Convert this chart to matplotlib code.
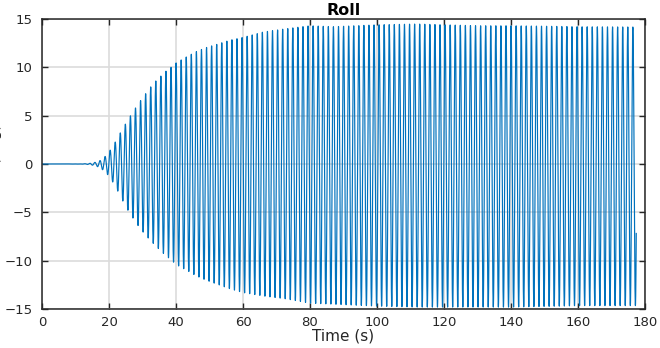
import numpy as np
import matplotlib
matplotlib.use("Agg")
import matplotlib.pyplot as plt

# Envelope of the roll response: upper peaks and lower troughs (deg) at given times (s)
env_time = [0, 12, 14, 16, 17.3, 18.9, 20.5, 22, 23.5, 25.1, 26.6, 28.1, 29.6, 31,
            32.5, 34, 35.5, 37, 38.5, 40, 43.2, 46.2, 49.2, 52.4, 56, 60, 66, 73,
            80, 87, 100, 112, 120, 130, 140, 155, 160, 177.5]
env_upper = [0, 0.01, 0.06, 0.18, 0.35, 0.8, 1.5, 2.35, 3.3, 4.25, 5.1, 5.9, 6.65, 7.3,
             8.0, 8.6, 9.1, 9.6, 10.0, 10.45, 11.1, 11.65, 12.07, 12.4, 12.8, 13.1,
             13.65, 14.0, 14.3, 14.2, 14.4, 14.48, 14.4, 14.3, 14.3, 14.23, 14.2, 14.17]
env_lower = [0, -0.01, -0.06, -0.18, -0.4, -0.8, -1.5, -2.4, -3.4, -4.5, -5.3, -6.1,
             -6.8, -7.4, -7.95, -8.5, -9.0, -9.5, -9.9, -10.4, -11.0, -11.6, -12.05,
             -12.45, -12.9, -13.3, -13.65, -13.96, -14.4, -14.5, -14.7, -14.8, -14.8,
             -14.8, -14.8, -14.7, -14.65, -14.65]
osc_period = 1.515      # s
first_peak = 17.3       # s
t_end = 177.4           # s

x_ticks = [0, 20, 40, 60, 80, 100, 120, 140, 160, 180]
y_ticks = [-15, -10, -5, 0, 5, 10, 15]

t = np.arange(0, t_end, 0.01)
up = np.interp(t, env_time, env_upper)
lo = np.interp(t, env_time, env_lower)
roll = (up + lo) / 2 + (up - lo) / 2 * np.cos(2 * np.pi * (t - first_peak) / osc_period)

plt.rcParams['font.family'] = ['DejaVu Sans']

fig = plt.figure(figsize=(6.6, 3.48), dpi=100)
ax = fig.add_axes([42 / 660, 1 - 309 / 348, (645 - 42) / 660, (309 - 19) / 348])

ax.grid(True, color='#dcdcdc', linewidth=1.2, zorder=0)
ax.set_axisbelow(True)
ax.plot(t, roll, color='#0072BD', linewidth=0.85, zorder=2)

ax.set_xlim(0, 180)
ax.set_ylim(-15, 15)
ax.set_xticks(x_ticks)
ax.set_yticks(y_ticks)
ax.tick_params(direction='in', length=4, width=1, top=True, right=True,
               labelsize=9.5, colors='#262626')
ax.tick_params(axis='x', pad=5)
ax.tick_params(axis='y', pad=7)
for s in ax.spines.values():
    s.set_linewidth(1.1)
    s.set_color('#262626')

ax.set_title('Roll', fontsize=11.5, fontweight='bold', pad=3, color='#000000')
ax.set_xlabel('Time (s)', fontsize=11, labelpad=0, color='#262626')
fig.text(2.5 / 660, 1 - 160 / 348, 'Roll (deg)', rotation=90, ha='right',
         va='center', fontsize=11, color='#262626')

fig.savefig('out.png', dpi=100)
